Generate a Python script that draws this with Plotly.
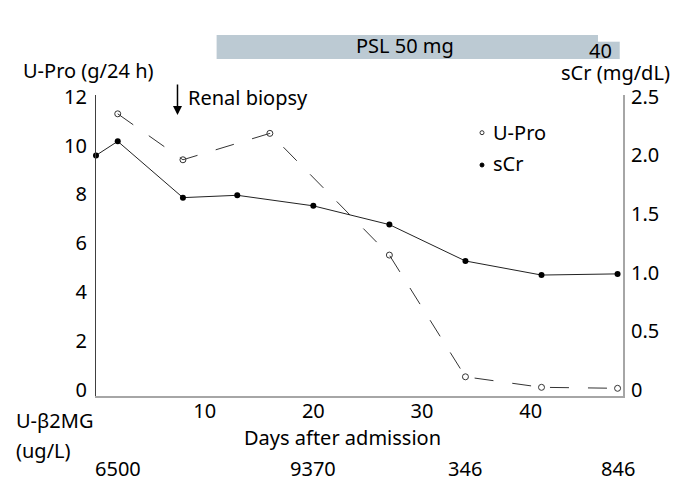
import plotly.graph_objects as go

# ---- data ----
scr_days = [0, 2, 8, 13, 20, 27, 34, 41, 48]
scr_vals = [2.0, 2.12, 1.64, 1.66, 1.57, 1.41, 1.10, 0.98, 0.99]

upro_days = [2, 8, 16, 27, 34, 41, 48]
upro_vals = [11.3, 9.42, 10.5, 5.52, 0.54, 0.11, 0.07]

b2mg_days = [2, 20, 34, 48]
b2mg_labels = ["6500", "9370", "346", "846"]

x_ticks = [10, 20, 30, 40]
left_ticks = [0, 2, 4, 6, 8, 10, 12]
right_ticks = [0, 0.5, 1.0, 1.5, 2.0, 2.5]
right_ticktext = ["0", "0.5", "1.0", "1.5", "2.0", "2.5"]

psl_main = [11.1, 46.2]   # PSL 50 mg period (days)
psl_taper = [46.2, 48.2]  # PSL 40 mg period (days)
biopsy_day = 7.5

FONT = "Noto Sans"
OFF = 8  # page body margin
W, H = 694 - OFF, 502 - OFF
L, T = 96 - OFF, 95 - OFF
PR, PB = 623 - OFF, 396 - OFF
R, B = W - PR, H - PB
PW, PH = PR - L, PB - T


def px(xp):
    return (xp - OFF - L) / PW


def py(yp):
    return (PB - (yp - OFF)) / PH


fig = go.Figure()

fig.add_trace(go.Scatter(
    x=upro_days, y=upro_vals, mode="lines+markers", yaxis="y",
    line=dict(color="#333333", width=1, dash="19px,19px"),
    marker=dict(symbol="circle-open", size=6, color="#333333", line=dict(width=1)),
    cliponaxis=False, showlegend=False, name="U-Pro"))

fig.add_trace(go.Scatter(
    x=scr_days, y=scr_vals, mode="lines+markers", yaxis="y2",
    line=dict(color="#222222", width=1),
    marker=dict(symbol="circle", size=6, color="black"),
    cliponaxis=False, showlegend=False, name="sCr"))

shapes = [
    dict(type="rect", xref="x", yref="paper", x0=psl_main[0], x1=psl_main[1],
         y0=py(59), y1=py(35), fillcolor="#bccad3", line=dict(width=0), layer="below"),
    dict(type="rect", xref="x", yref="paper", x0=psl_taper[0], x1=psl_taper[1],
         y0=py(59), y1=py(41.7), fillcolor="#bccad3", line=dict(width=0), layer="below"),
    # legend symbols
    dict(type="circle", xref="paper", yref="paper", x0=px(480), x1=px(484),
         y0=py(134.7), y1=py(130.7), line=dict(color="#333333", width=1), fillcolor="white"),
    dict(type="circle", xref="paper", yref="paper", x0=px(480), x1=px(484),
         y0=py(167), y1=py(163), line=dict(color="black", width=1), fillcolor="black"),
]

tf = dict(family=FONT, size=20, color="black")
ann = [
    dict(text="U-Pro (g/24 h)", x=px(88), y=py(71), xanchor="center", yanchor="middle"),
    dict(text="sCr (mg/dL)", x=px(615), y=py(72), xanchor="center", yanchor="middle"),
    dict(text="PSL 50 mg", x=px(405), y=py(46), xanchor="center", yanchor="middle"),
    dict(text="40", x=px(600), y=py(51), xanchor="center", yanchor="middle"),
    dict(text="Renal biopsy", x=px(186), y=py(97), xanchor="left", yanchor="middle"),
    dict(text="U-β2MG", x=px(14), y=py(420), xanchor="left", yanchor="middle"),
    dict(text="(ug/L)", x=px(14), y=py(450), xanchor="left", yanchor="middle"),
    dict(text="Days after admission", x=px(342.5), y=py(437), xanchor="center", yanchor="middle"),
    dict(text="U-Pro", x=px(491), y=py(132), xanchor="left", yanchor="middle"),
    dict(text="sCr", x=px(491), y=py(163), xanchor="left", yanchor="middle"),
]
annotations = []
for a in ann:
    a.update(xref="paper", yref="paper", showarrow=False, font=tf)
    annotations.append(a)

for d, lab in zip(b2mg_days, b2mg_labels):
    annotations.append(dict(text=lab, x=d, xref="x", y=py(468), yref="paper",
                            xanchor="center", yanchor="middle", showarrow=False, font=tf))

annotations.append(dict(text="", x=biopsy_day, xref="x", y=py(115), yref="paper",
                        ax=0, ay=-32, showarrow=True, arrowhead=2, arrowsize=1.2,
                        arrowwidth=1.5, arrowcolor="black"))

fig.update_layout(
    width=W, height=H,
    margin=dict(l=L, r=R, t=T, b=B, pad=0, autoexpand=False),
    paper_bgcolor="white", plot_bgcolor="white",
    font=tf,
    showlegend=False,
    shapes=shapes,
    annotations=annotations,
    xaxis=dict(range=[0, 48.5], tickvals=x_ticks, showline=True, linecolor="#a6a6a6",
               linewidth=2, showgrid=False, zeroline=False, ticks="",
               tickfont=tf, ticklabelstandoff=-4, automargin=False),
    yaxis=dict(range=[-0.245, 12.07], tickvals=left_ticks, showline=True, linecolor="#404040",
               linewidth=1, showgrid=False, zeroline=False, ticks="", tickfont=tf,
               ticklabelstandoff=4, automargin=False),
    yaxis2=dict(range=[-0.051, 2.515], tickvals=right_ticks, ticktext=right_ticktext,
                overlaying="y", side="right", showline=True, linecolor="#a6a6a6",
                linewidth=2, showgrid=False, zeroline=False, ticks="", tickfont=tf,
                ticklabelstandoff=2, automargin=False),
)

fig.write_html("out.html")
